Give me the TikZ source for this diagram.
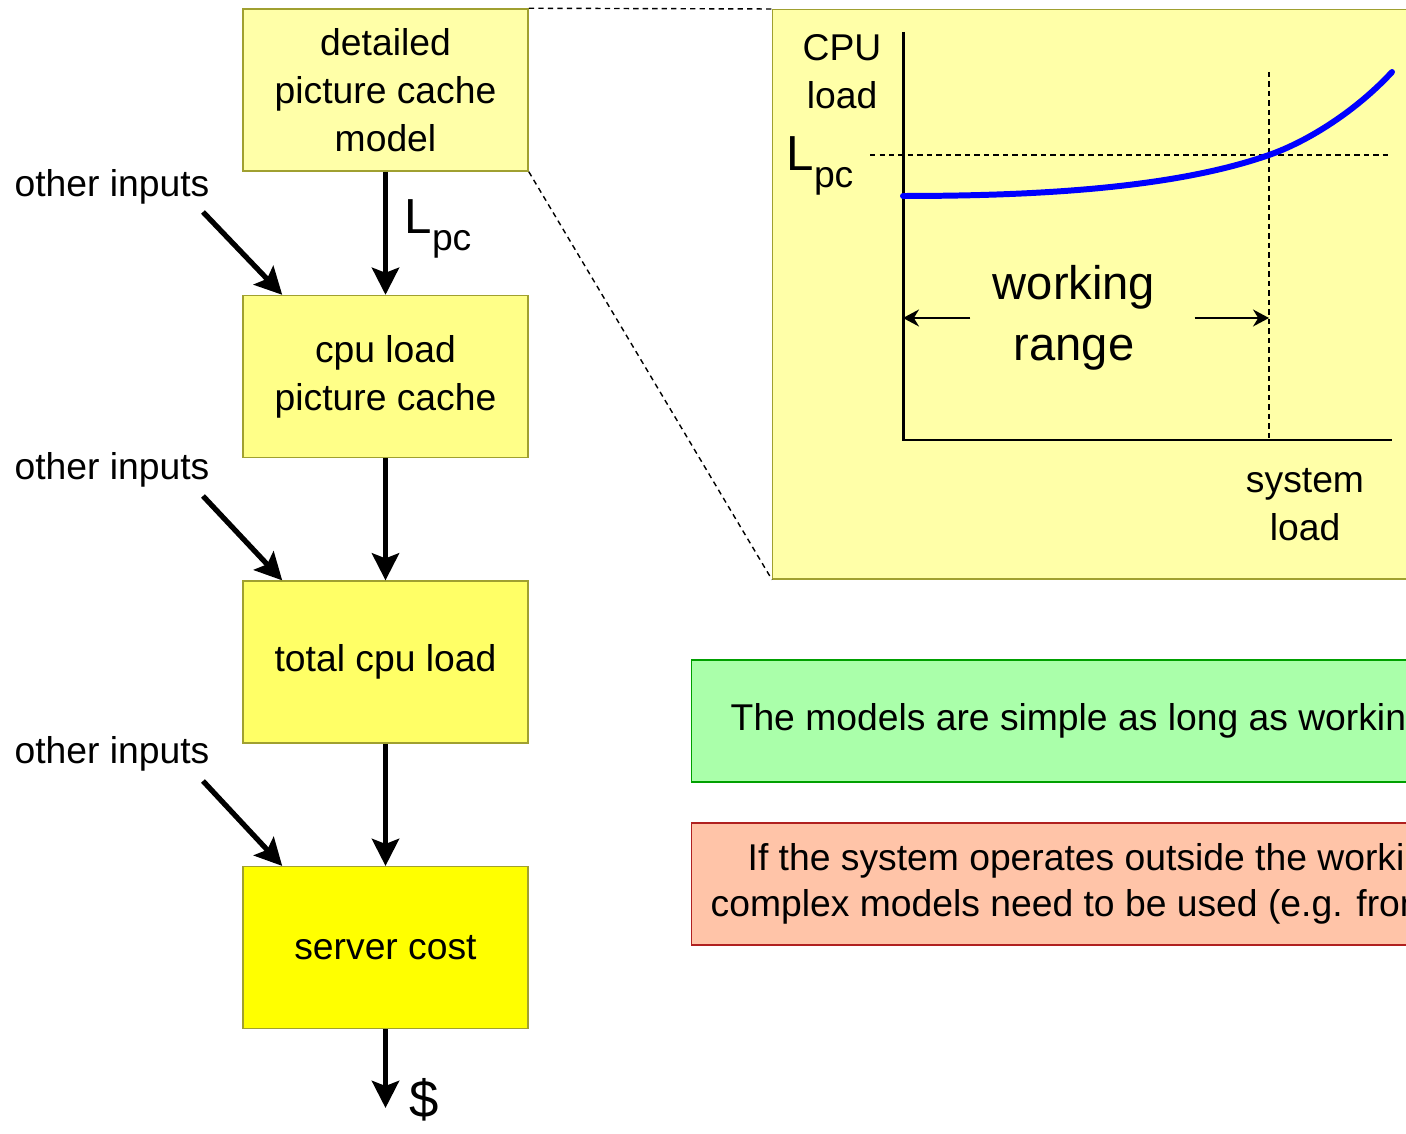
\documentclass[tikz,border=0pt]{standalone}
\usepackage{fontspec}
\setmainfont{Liberation Sans}
\usepackage{tikz}
\usetikzlibrary{arrows.meta, positioning}
\definecolor{palecache}{HTML}{FFFFA8}
\definecolor{midcache}{HTML}{FFFF88}
\definecolor{strongcache}{HTML}{FFFF66}
\definecolor{fullcache}{HTML}{FFFF00}
\definecolor{olivedge}{HTML}{A0A030}
\definecolor{notegreen}{HTML}{AAFFAA}
\definecolor{noteedgegreen}{HTML}{00A000}
\definecolor{notered}{HTML}{FFC4A8}
\definecolor{noteedgered}{HTML}{B02020}
\newcommand{\Lpc}{{\fontsize{14}{16}\selectfont L}\raisebox{-4.8pt}{pc}}
\tikzset{
	model/.style={
		rectangle, 
		minimum width=2.85cm, 
		minimum height=1.62cm, 
		inner sep=1pt,
		text centered, 
		align=center,
		draw=olivedge, 
		line width=0.4pt,
		font=\fontsize{10.6}{13.7}\selectfont
	},
	note/.style={
		rectangle, 
		minimum height=1.22cm, 
		text centered, 
		align=center,
		line width=0.4pt,
		font=\fontsize{10.6}{13.2}\selectfont
	},
	txt/.style={align=center, font=\fontsize{10.6}{13.7}\selectfont},
	bigtxt/.style={align=center, font=\fontsize{13.4}{17.4}\selectfont},
	arrow/.style={line width=1.5pt, -{Stealth[length=0.27cm, width=0.27cm, inset=0.05cm]}},
	thinarrow/.style={line width=0.45pt, -{Stealth[length=0.16cm, width=0.17cm]}},
	guide/.style={line width=0.4pt, dash pattern=on 1.5pt off 1.2pt},
	axisline/.style={line width=0.85pt},
	loadcurve/.style={line width=1.7pt, blue, line cap=round}
}

\begin{document}
\begin{tikzpicture}[x=0.01cm, y=-0.01cm]
	\useasboundingbox (0,0) rectangle (1406,1134);
	\clip (0,0) rectangle (1406,1134);

	% chain of models
	\node (detailed) [model, fill=palecache] at (385.5,90) {detailed\\picture cache\\model};
	\node (cpupc) [model, fill=midcache, below=1.23cm of detailed] {cpu load\\picture cache};
	\node (total) [model, fill=strongcache, below=1.22cm of cpupc] {total cpu load};
	\node (cost) [model, fill=fullcache, below=1.22cm of total] {server cost};
	\coordinate (payout) at (385.5,1108);
	\node (dollar) [font=\fontsize{15}{18}\selectfont] at (424,1100) {\$};
	\node (lpcleft) [txt] at (438,229) {\Lpc};

	\node (other1) [txt] at (112,187) {other inputs};
	\node (other2) [txt] at (112,470) {other inputs};
	\node (other3) [txt] at (112,754) {other inputs};
	\coordinate (tail1) at (203,212);
	\coordinate (tail2) at (203,496);
	\coordinate (tail3) at (203,781);

	\draw [arrow] (detailed) -- (cpupc);
	\draw [arrow] (cpupc) -- (total);
	\draw [arrow] (total) -- (cost);
	\draw [arrow] (cost) -- (payout);
	\draw [arrow] (tail1) -- ([xshift=0.4cm]cpupc.north west);
	\draw [arrow] (tail2) -- ([xshift=0.4cm]total.north west);
	\draw [arrow] (tail3) -- ([xshift=0.4cm]cost.north west);

	% zoomed graph
	\node (detail) [rectangle, draw=olivedge, fill=palecache, line width=0.4pt, anchor=north west, minimum width=7cm, minimum height=5.69cm] at (772,9) {};
	\draw [guide] (detailed.north east) -- (detail.north west);
	\draw [guide] (detailed.south east) -- (detail.south west);

	\coordinate (origin) at (903,440);
	\coordinate (limit) at (1269,440);
	\draw [guide] (870,155) -- (1390,155);
	\draw [guide] (1269,72) -- (limit);
	\draw [axisline] (903,32) -- (origin) -- (1392,440);
	\draw [loadcurve] (903,196) .. controls (1050,196) and (1179,186.5) .. (1269,155)
		.. controls (1309,141) and (1357,110) .. (1392,72);

	\node (cpuaxis) [txt] at (842,72) {CPU\\load};
	\node (lpcaxis) [txt] at (820,166) {\Lpc};
	\node (sysaxis) [txt] at (1305,505) {system\\load};
	\node (range) [bigtxt] at (1074,318) {working\\range};
	\draw [thinarrow] ([xshift=-0.1cm]range.west) -- (origin |- range.west);
	\draw [thinarrow] ([xshift=0.27cm]range.east) -- (limit |- range.east);

	% notes
	\node (simple) [note, fill=notegreen, draw=noteedgegreen, anchor=west, inner xsep=0.39cm] at (691,721) {The models are simple as long as working range is respected};
	\node (complex) [note, fill=notered, draw=noteedgered, anchor=west, inner xsep=0.19cm] at (691,884) {If the system operates outside the working range,\\complex models need to be used (e.g. from a profiler)};
\end{tikzpicture}
\end{document}
